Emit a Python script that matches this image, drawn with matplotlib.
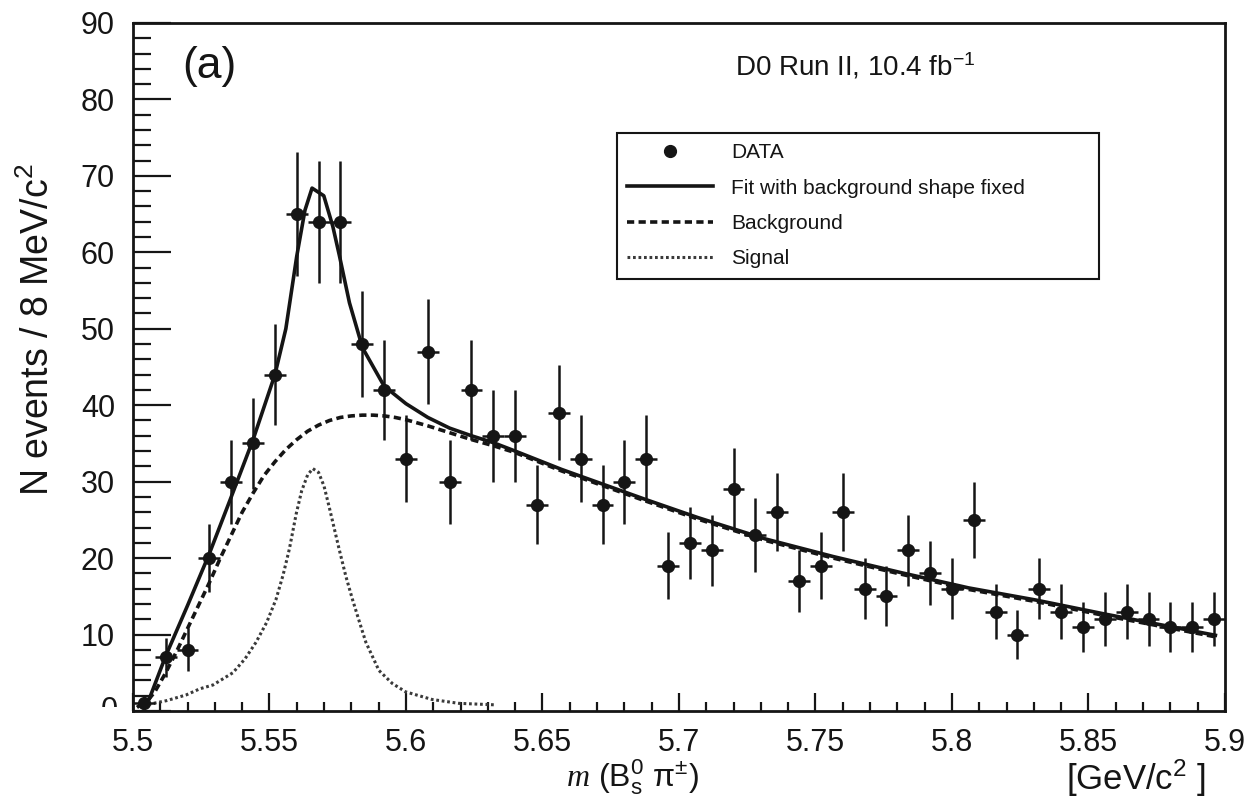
import matplotlib
matplotlib.use("Agg")
import matplotlib.pyplot as plt
from matplotlib.lines import Line2D
from matplotlib.ticker import MultipleLocator
from matplotlib.transforms import Bbox, TransformedBbox, IdentityTransform

plt.rcParams['font.family'] = ['Liberation Sans', 'DejaVu Sans']
plt.rcParams['mathtext.fontset'] = 'custom'
plt.rcParams['mathtext.rm'] = 'Liberation Sans'
plt.rcParams['mathtext.it'] = 'Liberation Serif:italic'
plt.rcParams['mathtext.default'] = 'regular'

# --- data ---
bin_centres = [5.504, 5.512, 5.520, 5.528, 5.536, 5.544, 5.552, 5.560, 5.568, 5.576,
               5.584, 5.592, 5.600, 5.608, 5.616, 5.624, 5.632, 5.640, 5.648, 5.656,
               5.664, 5.672, 5.680, 5.688, 5.696, 5.704, 5.712, 5.720, 5.728, 5.736,
               5.744, 5.752, 5.760, 5.768, 5.776, 5.784, 5.792, 5.800, 5.808, 5.816,
               5.824, 5.832, 5.840, 5.848, 5.856, 5.864, 5.872, 5.880, 5.888, 5.896]
counts = [1, 7, 8, 20, 30, 35, 44, 65, 64, 64,
          48, 42, 33, 47, 30, 42, 36, 36, 27, 39,
          33, 27, 30, 33, 19, 22, 21, 29, 23, 26,
          17, 19, 26, 16, 15, 21, 18, 16, 25, 13,
          10, 16, 13, 11, 12, 13, 12, 11, 11, 12]
count_err = [1.0, 2.6, 2.8, 4.5, 5.5, 5.9, 6.6, 8.1, 8.0, 8.0,
             6.9, 6.5, 5.7, 6.9, 5.5, 6.5, 6.0, 6.0, 5.2, 6.2,
             5.7, 5.2, 5.5, 5.7, 4.4, 4.7, 4.6, 5.4, 4.8, 5.1,
             4.1, 4.4, 5.1, 4.0, 3.9, 4.6, 4.2, 4.0, 5.0, 3.6,
             3.2, 4.0, 3.6, 3.3, 3.5, 3.6, 3.5, 3.3, 3.3, 3.5]
bin_half_width = 0.004

fit_x = [5.502, 5.506, 5.512, 5.520, 5.528, 5.536, 5.544, 5.552, 5.556, 5.560,
         5.563, 5.5656, 5.5699, 5.5732, 5.5756, 5.5793, 5.5841, 5.592, 5.600, 5.608,
         5.616, 5.624, 5.632, 5.640, 5.657, 5.6875, 5.7069, 5.7317, 5.7565, 5.7813,
         5.8061, 5.8309, 5.8557, 5.8805, 5.8965]
fit_y = [0.6, 1.6, 7.2, 13.8, 20.6, 28.0, 35.5, 44.0, 50.0, 59.5,
         65.5, 68.4, 67.4, 63.4, 59.6, 53.4, 47.5, 42.5, 40.2, 38.4,
         37.0, 36.0, 35.1, 34.0, 31.6, 27.7, 25.3, 22.5, 20.2, 18.1,
         16.1, 14.5, 12.7, 11.0, 9.9]

bkg_x = [5.503, 5.508, 5.512, 5.516, 5.520, 5.524, 5.528, 5.532, 5.536, 5.540,
         5.544, 5.548, 5.552, 5.556, 5.560, 5.564, 5.568, 5.572, 5.576, 5.580,
         5.584, 5.588, 5.592, 5.596, 5.600, 5.608, 5.616, 5.624, 5.632, 5.640,
         5.657, 5.6875, 5.7069, 5.7317, 5.7565, 5.7813, 5.8061, 5.8309, 5.8557,
         5.8805, 5.8965]
bkg_y = [0.3, 2.5, 5.0, 7.8, 10.8, 13.8, 16.8, 20.0, 23.0, 26.0,
         28.5, 30.8, 32.6, 34.2, 35.5, 36.6, 37.4, 38.0, 38.4, 38.6,
         38.7, 38.7, 38.6, 38.4, 38.1, 37.3, 36.4, 35.5, 34.7, 33.8,
         31.4, 27.5, 25.1, 22.3, 20.0, 17.9, 15.9, 14.3, 12.5,
         10.8, 9.7]

sig_x = [5.5037, 5.5062, 5.5123, 5.5195, 5.5245, 5.5293, 5.5366, 5.5410, 5.5451, 5.5490,
         5.5524, 5.5550, 5.5573, 5.5598, 5.5618, 5.5640, 5.5659, 5.5680, 5.5700, 5.5720,
         5.5755, 5.5780, 5.5804, 5.5830, 5.5853, 5.5901, 5.5950, 5.5999, 5.6096, 5.6193,
         5.6327]
sig_y = [0.7, 0.9, 1.35, 2.1, 2.9, 3.4, 5.0, 6.8, 9.0, 11.6,
         14.6, 17.8, 21.2, 25.8, 28.8, 30.9, 31.7, 31.2, 29.4, 26.5,
         21.2, 17.6, 14.6, 11.6, 9.0, 5.3, 3.6, 2.5, 1.5, 1.0,
         0.8]

x_ticks = [5.5, 5.55, 5.6, 5.65, 5.7, 5.75, 5.8, 5.85, 5.9]
x_tick_labels = ['5.5', '5.55', '5.6', '5.65', '5.7', '5.75', '5.8', '5.85', '5.9']
y_ticks = [0, 10, 20, 30, 40, 50, 60, 70, 80, 90]
y_tick_labels = ['', '10', '20', '30', '40', '50', '60', '70', '80', '90']

ink = '#151515'

fig = plt.figure(figsize=(12.52, 8.01), dpi=100)
ax = fig.add_axes([0.1062, 0.1124, 0.8722, 0.8589])

ax.errorbar(bin_centres, counts, xerr=bin_half_width, yerr=count_err, fmt='o',
            ms=8.5, color=ink, elinewidth=1.8, capsize=0, zorder=5)
ax.plot(fit_x, fit_y, color=ink, lw=2.6, zorder=4)
ax.plot(bkg_x, bkg_y, color=ink, lw=2.6, dashes=(2.0, 1.2), zorder=3)
ax.plot(sig_x, sig_y, color='#3a3a3a', lw=2.2, dashes=(0.9, 0.9), zorder=3)

ax.set_xlim(5.5, 5.9)
ax.set_ylim(0, 90)
ax.set_xticks(x_ticks, x_tick_labels)
ax.set_yticks(y_ticks, y_tick_labels)
ax.xaxis.set_minor_locator(MultipleLocator(0.01))
ax.yaxis.set_minor_locator(MultipleLocator(2))
ax.tick_params(which='both', direction='in', top=False, right=False,
               width=1.6, color=ink, labelsize=22, labelcolor=ink)
ax.tick_params(axis='y', which='major', length=27, pad=13)
ax.tick_params(axis='y', which='minor', length=13)
ax.tick_params(axis='x', which='major', length=13, pad=12)
ax.tick_params(axis='x', which='minor', length=6.5)
for s in ax.spines.values():
    s.set_linewidth(2.0)
    s.set_color(ink)

# the "0" label is half hidden under the axis in the original
zero = ax.text(-0.014, 0, '0', transform=ax.get_yaxis_transform(), ha='right',
               va='center', fontsize=22, color=ink, clip_on=True)
zero.set_clip_box(TransformedBbox(Bbox([[0, 94], [1252, 801]]), IdentityTransform()))

ax.text(5.5179, 84.3, '(a)', fontsize=32, ha='left', va='center', color=ink)
ax.text(5.7646, 84.3, 'D0 Run II, 10.4 fb$^{-1}$', fontsize=20, ha='center',
        va='center', color=ink)

handles = [Line2D([], [], ls='none', marker='o', ms=8.5, color=ink),
           Line2D([], [], color=ink, lw=2.6),
           Line2D([], [], color=ink, lw=2.6, dashes=(2.0, 1.2)),
           Line2D([], [], color='#3a3a3a', lw=2.2, dashes=(0.9, 0.9))]
labels = ['DATA', 'Fit with background shape fixed', 'Background', 'Signal']
leg = ax.legend(handles, labels, loc='upper left', bbox_to_anchor=(0.443, 0.626, 0.442, 0.214),
                mode='expand', fontsize=15, handlelength=4.1, labelspacing=0.78,
                frameon=True, fancybox=False, framealpha=1, borderaxespad=0,
                handletextpad=0.9, borderpad=0.5)
leg.get_frame().set_edgecolor(ink)
leg.get_frame().set_linewidth(1.5)
for t in leg.get_texts():
    t.set_color(ink)

fig.text(632 / 1252, 1 - 777 / 801, r'$\mathit{m}$ (B$^{0}_{s}$ $\pi^{\pm}$)',
         fontsize=23, ha='center', va='center', color=ink)
fig.text(1136 / 1252, 1 - 778 / 801, '[GeV/c$^2$ ]', fontsize=25, ha='center',
         va='center', color=ink)
fig.text(38 / 1252, 1 - 330 / 801, 'N events / 8 MeV/c$^2$', rotation=90,
         fontsize=27, ha='center', va='center', color=ink)

fig.savefig('out.png', dpi=100)
